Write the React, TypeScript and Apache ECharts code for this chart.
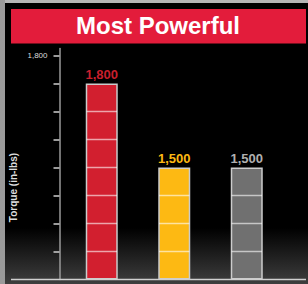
import React, { useEffect, useRef } from "react";
import * as echarts from "echarts";

const categories = ["A", "B", "C"];
const barSegments = [7, 4, 4];
const torqueLabels = [1800, 1500, 1500];
const barColors = ["#d21f2f", "#fdb913", "#707070"];
const labelColors = ["#c81f2c", "#fdb913", "#b0b0b0"];
const axisTopLabel = "1,800";
const tickValues = [1, 2, 3, 4, 5, 6, 7, 8];
const titleText = "Most Powerful";
const axisTitle = "Torque (in-lbs)";

const fmt = (n: number) => n.toLocaleString("en-US");

export default function App() {
  const ref = useRef<HTMLDivElement>(null);
  useEffect(() => {
    if (!ref.current) return;
    const chart = echarts.init(ref.current, null, { renderer: "svg" });
    const BW = 32;
    chart.setOption({
      animation: false,
      backgroundColor: "#000",
      grid: { left: 65.5, right: 25, top: 48.5, bottom: 4.5 },
      xAxis: {
        type: "category",
        data: categories,
        show: false,
      },
      yAxis: {
        type: "value",
        min: 0,
        max: 8.25,
        interval: 1,
        offset: 6,
        axisLine: { show: true, lineStyle: { color: "#9a9a9a", width: 1.5 } },
        axisTick: {
          show: true,
          length: 6,
          customValues: tickValues,
          lineStyle: { color: "#cfcfcf", width: 1.5 },
        },
        axisLabel: {
          customValues: [8],
          formatter: () => axisTopLabel,
          color: "#dddddd",
          fontSize: 8,
          fontFamily: "Liberation Sans, Arial, sans-serif",
          margin: 12,
        },
        splitLine: { show: false },
      },
      graphic: [
        {
          type: "rect",
          z: -20,
          silent: true,
          shape: { x: 0, y: 0, width: 308, height: 284 },
          style: {
            fill: new echarts.graphic.LinearGradient(0, 0, 1, 0, [
              { offset: 0, color: "#9a9a9a" },
              { offset: 1, color: "#8a8a8a" },
            ]),
          },
        },
        {
          type: "rect",
          z: -19,
          silent: true,
          shape: { x: 5, y: 0, width: 303, height: 3 },
          style: { fill: "#b5b5b5" },
        },
        {
          type: "rect",
          z: -18,
          silent: true,
          shape: { x: 5, y: 3, width: 303, height: 281 },
          style: {
            fill: new echarts.graphic.LinearGradient(0, 0, 0, 1, [
              { offset: 0, color: "#000000" },
              { offset: 0.8, color: "#000000" },
              { offset: 1, color: "#3e3e3e" },
            ]),
          },
        },
        {
          type: "rect",
          z: -17,
          silent: true,
          shape: { x: 11, y: 9, width: 295, height: 34.5 },
          style: { fill: "#e31c3b" },
        },
        {
          type: "text",
          z: 5,
          x: 158,
          y: 25,
          style: {
            text: titleText,
            fill: "#ffffff",
            font: "bold 24px 'Liberation Sans', Arial, sans-serif",
            textAlign: "center",
            textVerticalAlign: "middle",
          },
        },
        {
          type: "text",
          z: 5,
          x: 13.5,
          y: 187.5,
          rotation: Math.PI / 2,
          style: {
            text: axisTitle,
            fill: "#dddddd",
            font: "bold 10px 'Liberation Sans', Arial, sans-serif",
            textAlign: "center",
            textVerticalAlign: "middle",
          },
        },
        {
          type: "line",
          z: 20,
          silent: true,
          shape: { x1: 11, y1: 279.5, x2: 306, y2: 279.5 },
          style: { stroke: "#cfcfcf", lineWidth: 1.5 },
        },
      ],
      series: [
        {
          type: "bar",
          barWidth: BW,
          z: 2,
          data: barSegments.map((v, i) => ({
            value: v,
            itemStyle: { color: barColors[i], borderColor: "#cccccc", borderWidth: 1.5 },
            label: { color: labelColors[i] },
          })),
          label: {
            show: true,
            position: "top",
            distance: 3,
            fontSize: 13,
            fontWeight: "bold",
            fontFamily: "'Liberation Sans', Arial, sans-serif",
            formatter: (p: any) => fmt(torqueLabels[p.dataIndex]),
          },
        },
        {
          type: "custom",
          z: 3,
          silent: true,
          data: barSegments.map((v, i) => [i, v]),
          encode: { x: 0, y: 1 },
          renderItem: (params: any, api: any) => {
            const cat = api.value(0);
            const v = api.value(1);
            const children: any[] = [];
            for (let k = 1; k < v; k++) {
              const p = api.coord([cat, k]);
              children.push({
                type: "line",
                shape: { x1: p[0] - BW / 2 + 0.75, y1: p[1], x2: p[0] + BW / 2 - 0.75, y2: p[1] },
                style: { stroke: "rgba(255,255,255,0.6)", lineWidth: 1.5 },
              });
            }
            return { type: "group", children };
          },
        },
      ],
    });
    return () => chart.dispose();
  }, []);
  return (
    <div
      ref={ref}
      style={{ position: "absolute", left: 0, top: 0, width: 308, height: 284 }}
    />
  );
}
